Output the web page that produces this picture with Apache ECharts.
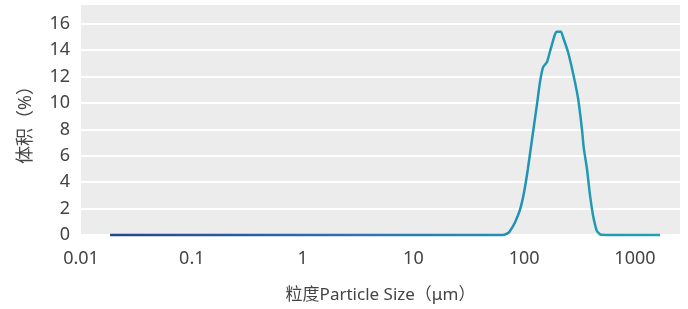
<!DOCTYPE html>
<html>
<head>
<meta charset="utf-8">
<script src="https://cdn.jsdelivr.net/npm/echarts@6/dist/echarts.min.js"></script>
<style>
    html, body { margin: 0; padding: 0; background: #fff; }
    #container { width: 688px; height: 309px; }
</style>
</head>
<body>
<div id="container"></div>
<script>
// 粒度 (μm) 与 体积 (%)
var sizes = [0.0183, 0.1, 1, 10, 40, 64.4, 71.4, 74.5, 82.6, 91.6, 99.6, 108, 117.5, 130.5, 139, 148, 160.6, 171, 189.7, 197.8, 214.8, 224, 248, 275.6, 306, 332.5, 345, 369, 393, 418, 436, 454, 493, 700, 1683];
var volumes = [0, 0, 0, 0, 0, 0, 0.15, 0.3, 0.95, 1.9, 3.2, 5.0, 7.2, 9.9, 11.6, 12.7, 13.1, 13.9, 15.2, 15.4, 15.4, 15.0, 13.9, 12.3, 10.4, 8.0, 6.6, 5.0, 3.0, 1.5, 0.8, 0.3, 0.02, 0, 0];
var xTicks = [0.01, 0.1, 1, 10, 100, 1000];

var seriesData = [];
for (var i = 0; i < sizes.length; i++) {
    seriesData.push([sizes[i], volumes[i]]);
}

var labelFont = '"Noto Sans", "Noto Sans CJK SC", sans-serif';

var option = {
    animation: false,
    grid: {
        left: 81,
        right: 8,
        top: 4,
        bottom: 66,
        show: true,
        backgroundColor: '#ececec',
        borderWidth: 0
    },
    xAxis: {
        type: 'log',
        logBase: 10,
        min: 0.01,
        max: 2550,
        name: '粒度Particle Size（μm）',
        nameLocation: 'middle',
        nameGap: 50,
        nameTextStyle: { color: '#444', fontSize: 17, fontFamily: labelFont },
        axisLine: { show: false },
        axisTick: { show: false },
        splitLine: { show: false },
        axisLabel: {
            color: '#444',
            fontSize: 18,
            fontFamily: labelFont,
            margin: 13,
            showMaxLabel: false,
            formatter: function (v) {
                for (var k = 0; k < xTicks.length; k++) {
                    if (Math.abs(v - xTicks[k]) / xTicks[k] < 1e-6) return String(xTicks[k]);
                }
                return '';
            }
        }
    },
    yAxis: {
        type: 'value',
        min: -0.15,
        max: 17.5,
        splitNumber: 8,
        name: '体积（%）',
        nameLocation: 'middle',
        nameGap: 46,
        nameRotate: 90,
        nameTextStyle: { color: '#444', fontSize: 18, fontFamily: labelFont },
        axisLine: { show: false },
        axisTick: { show: false },
        splitLine: { show: true, lineStyle: { color: '#ffffff', width: 2 } },
        axisLabel: {
            color: '#444',
            fontSize: 18,
            fontFamily: labelFont,
            margin: 11,
            showMinLabel: false,
            showMaxLabel: false,
            formatter: function (v) {
                return (Math.abs(v % 2) < 1e-6) ? String(v) : '';
            }
        }
    },
    series: [{
        type: 'line',
        data: seriesData,
        showSymbol: false,
        smooth: 0.2,
        lineStyle: {
            width: 2.5,
            color: new echarts.graphic.LinearGradient(0, 0, 1, 0, [
                { offset: 0, color: '#22458e' },
                { offset: 0.45, color: '#2f72b4' },
                { offset: 0.75, color: '#1f93b5' },
                { offset: 1, color: '#22a2b2' }
            ], false)
        }
    }]
};

var myChart = echarts.init(document.getElementById('container'));
myChart.setOption(option);
</script>
</body>
</html>
